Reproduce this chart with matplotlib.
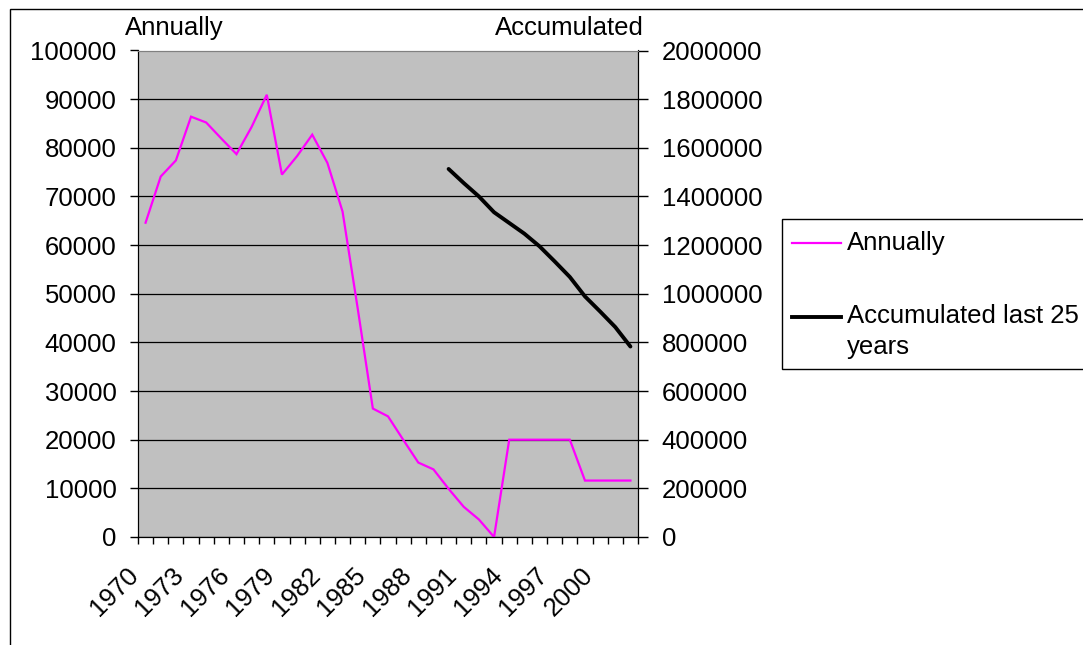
import matplotlib
matplotlib.use("Agg")
import matplotlib.pyplot as plt
from matplotlib.patches import Rectangle
from matplotlib.lines import Line2D
from matplotlib.transforms import ScaledTranslation

plt.rcParams['font.family'] = ['Liberation Sans', 'DejaVu Sans']

years = list(range(1970, 2003))
annually = [64600, 74100, 77400, 86400, 85200, 81900, 78700, 84300, 90900, 74500,
            78300, 82700, 76900, 66900, 47000, 26400, 24800, 20000, 15300, 13900,
            9900, 6200, 3600, 0, 20000, 20000, 20000, 20000, 20000, 11600,
            11600, 11600, 11600]
acc_years = list(range(1990, 2003))
accumulated = [1513000, 1455000, 1400000, 1335000, 1291000, 1247000, 1195000,
               1133000, 1069000, 989000, 927000, 863000, 783000]
label_years = list(range(1970, 2001, 3))
legend_labels = ['Annually', 'Accumulated last 25', 'years']

W, H = 1083, 645
fig = plt.figure(figsize=(W / 100, H / 100), dpi=100)
fs = 18.5

def fx(px):
    return px / W

def fy(py):
    return 1 - py / H

# outer chart frame (clipped at right/bottom)
fig.add_artist(Rectangle((fx(10), -0.2), 2.0, fy(9) + 0.2, transform=fig.transFigure,
                         fill=False, edgecolor='black', lw=1))

left, right, bottom, top = fx(138), fx(638), fy(537), fy(50.5)
ax = fig.add_axes([left, bottom, right - left, top - bottom])
ax.set_facecolor('#C0C0C0')

x_ann = [y - 1970 for y in years]
x_acc = [y - 1970 for y in acc_years]

ax.set_xlim(-0.5, len(years) - 0.5)
ax.set_ylim(0, 100000)
ax.set_yticks(range(0, 100001, 10000))
ax.set_yticklabels([str(v) for v in range(0, 100001, 10000)], fontsize=fs)
ax.yaxis.grid(True, color='black', lw=0.9)
ax.set_axisbelow(True)
ax.tick_params(axis='y', direction='out', length=6, width=1, pad=9.5)

ax.set_xticks([y - 1970 for y in label_years])
ax.set_xticklabels([str(y) for y in label_years], fontsize=fs, rotation=45,
                   ha='right', va='center', rotation_mode='anchor')
ax.set_xticks([i - 0.5 for i in range(len(years) + 1)], minor=True)
ax.tick_params(axis='x', which='major', length=0, pad=22)
ax.tick_params(axis='x', which='minor', direction='out', length=5, width=1)
off = ScaledTranslation(-11 / 100, -4 / 100, fig.dpi_scale_trans)
for lab in ax.get_xticklabels():
    lab.set_transform(lab.get_transform() + off)

for s in ['left', 'bottom', 'right']:
    ax.spines[s].set_color('black')
ax.spines['top'].set_color('#808080')

ann_style = dict(color='#FF00FF', lw=1.6)
acc_style = dict(color='black', lw=2.8, solid_capstyle='round')
ax.plot(x_ann, annually, solid_joinstyle='miter', **ann_style)

ax2 = ax.twinx()
ax2.set_ylim(0, 2000000)
ax2.set_yticks(range(0, 2000001, 200000))
ax2.set_yticklabels([str(v) for v in range(0, 2000001, 200000)], fontsize=fs)
ax2.tick_params(axis='y', direction='out', length=7, width=1, pad=10)
ax2.plot(x_acc, accumulated, **acc_style)
for s in ['left', 'bottom', 'right']:
    ax2.spines[s].set_color('black')
ax2.spines['top'].set_color('#808080')

fig.text(fx(125), fy(35), 'Annually', fontsize=fs, ha='left', va='baseline')
fig.text(fx(495), fy(35), 'Accumulated', fontsize=fs, ha='left', va='baseline')

# legend (drawn as a box, clipped at the right edge like the reference)
fig.add_artist(Rectangle((fx(782), fy(369)), 1.0, fy(219.3) - fy(369),
                         transform=fig.transFigure, facecolor='white',
                         edgecolor='black', lw=1))
fig.add_artist(Line2D([fx(792), fx(841)], [fy(242.7), fy(242.7)],
                      transform=fig.transFigure, **ann_style))
fig.add_artist(Line2D([fx(792), fx(841)], [fy(316.7), fy(316.7)],
                      transform=fig.transFigure, color='black', lw=2.8))
fig.text(fx(847), fy(250), legend_labels[0], fontsize=fs, ha='left', va='baseline')
fig.text(fx(847), fy(323), legend_labels[1], fontsize=fs, ha='left', va='baseline')
fig.text(fx(847), fy(354), legend_labels[2], fontsize=fs, ha='left', va='baseline')

fig.savefig('out.png', dpi=100)
